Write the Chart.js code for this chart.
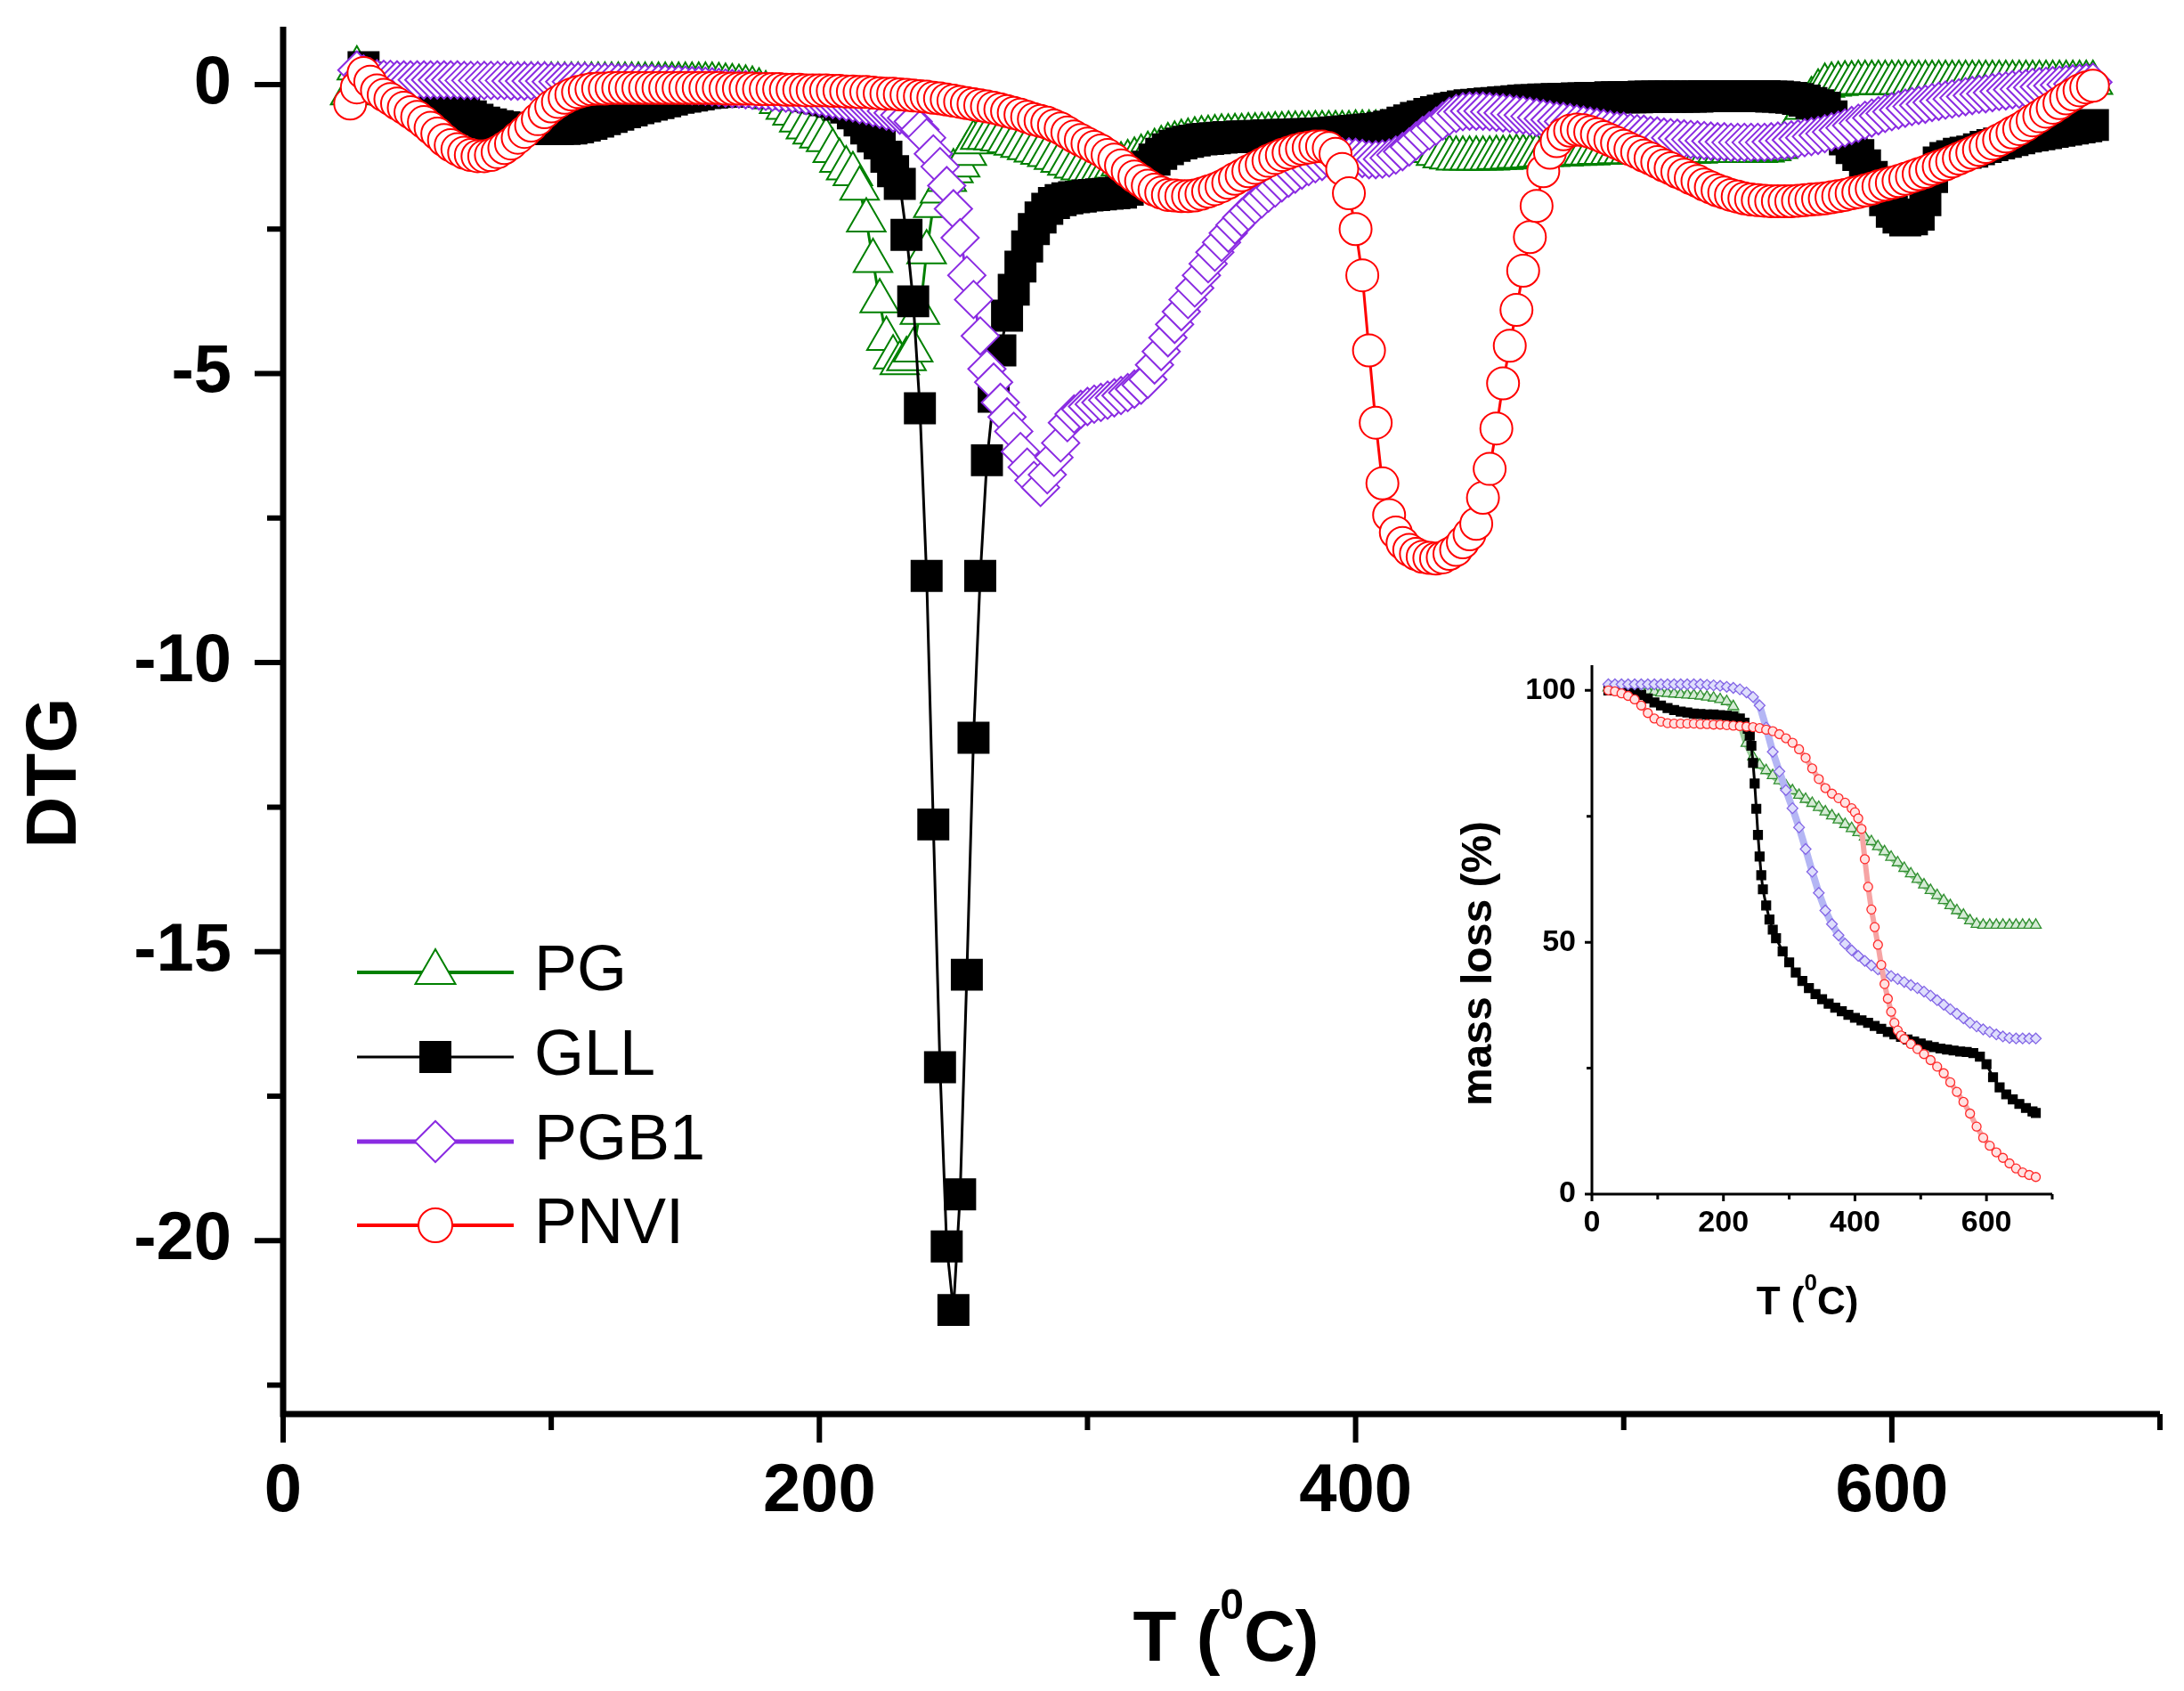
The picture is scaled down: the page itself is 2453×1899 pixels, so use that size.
<!DOCTYPE html>
<html>
<head>
<meta charset="utf-8">
<script src="https://cdn.jsdelivr.net/npm/chart.js@4.4.0/dist/chart.umd.min.js"></script>
<style>
  html, body { margin: 0; padding: 0; background: #fff; overflow: hidden; }
  #wrap { position: relative; width: 2453px; height: 1899px; }
  #main { position: absolute; left: 0; top: 0; }
  #inset { position: absolute; left: 1600px; top: 720px; }
</style>
</head>
<body>
<div id="wrap">
  <canvas id="main" width="2453" height="1899"></canvas>
  <canvas id="inset" width="720" height="790"></canvas>
</div>
<script>
// ---- DTG data (main plot), one value per temperature step ----
const temps = [
  25,27.5,30,32.5,35,37.5,40,42.5,45,47.5,
  50,52.5,55,57.5,60,62.5,65,67.5,70,72.5,
  75,77.5,80,82.5,85,87.5,90,92.5,95,97.5,
  100,102.5,105,107.5,110,112.5,115,117.5,120,122.5,
  125,127.5,130,132.5,135,137.5,140,142.5,145,147.5,
  150,152.5,155,157.5,160,162.5,165,167.5,170,172.5,
  175,177.5,180,182.5,185,187.5,190,192.5,195,197.5,
  200,202.5,205,207.5,210,212.5,215,217.5,220,222.5,
  225,227.5,230,232.5,235,237.5,240,242.5,245,247.5,
  250,252.5,255,257.5,260,262.5,265,267.5,270,272.5,
  275,277.5,280,282.5,285,287.5,290,292.5,295,297.5,
  300,302.5,305,307.5,310,312.5,315,317.5,320,322.5,
  325,327.5,330,332.5,335,337.5,340,342.5,345,347.5,
  350,352.5,355,357.5,360,362.5,365,367.5,370,372.5,
  375,377.5,380,382.5,385,387.5,390,392.5,395,397.5,
  400,402.5,405,407.5,410,412.5,415,417.5,420,422.5,
  425,427.5,430,432.5,435,437.5,440,442.5,445,447.5,
  450,452.5,455,457.5,460,462.5,465,467.5,470,472.5,
  475,477.5,480,482.5,485,487.5,490,492.5,495,497.5,
  500,502.5,505,507.5,510,512.5,515,517.5,520,522.5,
  525,527.5,530,532.5,535,537.5,540,542.5,545,547.5,
  550,552.5,555,557.5,560,562.5,565,567.5,570,572.5,
  575,577.5,580,582.5,585,587.5,590,592.5,595,597.5,
  600,602.5,605,607.5,610,612.5,615,617.5,620,622.5,
  625,627.5,630,632.5,635,637.5,640,642.5,645,647.5,
  650,652.5,655,657.5,660,662.5,665,667.5,670,672.5,
  675
];

const pgDTG = [
  -0.15,0.28,0.1,0.02,0,0,0,0,0,0,
  0,0,0,0,0,0,0,0,0,0,
  0,0,0,0,0,0,0,0,0,0,
  0,0,0,0,0,0,0,0,0,0,
  0,0,0,0,0,0,0,0,0,0,
  0,0,0,0,0,-0.01,-0.02,-0.03,-0.04,-0.05,
  -0.07,-0.1,-0.15,-0.22,-0.3,-0.4,-0.5,-0.62,-0.74,-0.83,
  -0.9,-0.96,-1.15,-1.32,-1.45,-1.55,-1.8,-2.35,-3.05,-3.75,
  -4.4,-4.72,-4.82,-4.75,-4.6,-3.95,-2.9,-2.1,-1.85,-1.65,
  -1.5,-1.4,-1.2,-1.0,-0.92,-0.92,-0.93,-0.95,-0.98,-1.02,
  -1.06,-1.1,-1.14,-1.18,-1.22,-1.27,-1.32,-1.37,-1.42,-1.45,
  -1.47,-1.47,-1.46,-1.44,-1.42,-1.38,-1.34,-1.3,-1.25,-1.2,
  -1.15,-1.1,-1.05,-1.02,-0.99,-0.97,-0.95,-0.93,-0.92,-0.91,
  -0.9,-0.9,-0.89,-0.89,-0.88,-0.88,-0.87,-0.87,-0.86,-0.86,
  -0.85,-0.85,-0.85,-0.85,-0.84,-0.84,-0.84,-0.84,-0.84,-0.84,
  -0.83,-0.83,-0.83,-0.83,-0.83,-0.83,-0.84,-0.86,-0.9,-0.96,
  -1.08,-1.15,-1.2,-1.24,-1.26,-1.28,-1.28,-1.28,-1.28,-1.28,
  -1.28,-1.27,-1.27,-1.26,-1.25,-1.25,-1.24,-1.23,-1.22,-1.22,
  -1.21,-1.21,-1.2,-1.2,-1.19,-1.19,-1.18,-1.18,-1.18,-1.17,
  -1.17,-1.17,-1.17,-1.17,-1.16,-1.16,-1.16,-1.16,-1.16,-1.16,
  -1.16,-1.16,-1.15,-1.15,-1.15,-1.15,-1.15,-1.15,-1.15,-1.15,
  -1.15,-1.14,-1.12,-1.08,-1.0,-0.8,-0.6,-0.4,-0.25,-0.12,
  -0.02,0,0.01,0.02,0.02,0.03,0.03,0.03,0.03,0.03,
  0.03,0.03,0.03,0.03,0.03,0.03,0.03,0.03,0.03,0.03,
  0.03,0.03,0.03,0.03,0.03,0.03,0.03,0.03,0.03,0.03,
  0.03,0.03,0.03,0.03,0.03,0.03,0.03,0.03,0.03,0.03,
  0.03
];

const gllDTG = [
  null,null,0.3,0.12,0,-0.05,-0.08,-0.1,-0.11,-0.12,
  -0.15,-0.17,-0.2,-0.25,-0.3,-0.36,-0.42,-0.48,-0.55,-0.61,
  -0.66,-0.69,-0.72,-0.74,-0.75,-0.76,-0.76,-0.77,-0.77,-0.77,
  -0.77,-0.77,-0.77,-0.76,-0.74,-0.71,-0.68,-0.64,-0.6,-0.56,
  -0.52,-0.48,-0.45,-0.41,-0.38,-0.35,-0.32,-0.29,-0.26,-0.23,
  -0.21,-0.19,-0.17,-0.15,-0.14,-0.13,-0.12,-0.12,-0.12,-0.12,
  -0.12,-0.12,-0.13,-0.14,-0.15,-0.16,-0.17,-0.18,-0.2,-0.22,
  -0.24,-0.27,-0.3,-0.35,-0.4,-0.5,-0.62,-0.76,-0.9,-1.02,
  -1.25,-1.5,-1.72,-2.6,-3.75,-5.6,-8.5,-12.8,-17.0,-20.1,
  -21.2,-19.2,-15.4,-11.3,-8.5,-6.5,-5.4,-4.6,-4.0,-3.55,
  -3.15,-2.8,-2.5,-2.3,-2.15,-2.05,-2.0,-1.97,-1.95,-1.94,
  -1.92,-1.91,-1.9,-1.89,-1.88,-1.87,-1.82,-1.75,-1.55,-1.42,
  -1.3,-1.2,-1.12,-1.06,-1.02,-0.99,-0.97,-0.95,-0.94,-0.93,
  -0.92,-0.91,-0.91,-0.9,-0.9,-0.89,-0.89,-0.88,-0.88,-0.87,
  -0.87,-0.87,-0.86,-0.86,-0.85,-0.85,-0.84,-0.83,-0.82,-0.81,
  -0.8,-0.79,-0.78,-0.77,-0.75,-0.73,-0.7,-0.66,-0.62,-0.58,
  -0.55,-0.51,-0.48,-0.45,-0.42,-0.4,-0.38,-0.36,-0.35,-0.34,
  -0.33,-0.32,-0.31,-0.3,-0.29,-0.28,-0.27,-0.27,-0.26,-0.26,
  -0.25,-0.25,-0.25,-0.24,-0.24,-0.23,-0.23,-0.23,-0.22,-0.22,
  -0.22,-0.22,-0.22,-0.21,-0.21,-0.21,-0.21,-0.21,-0.21,-0.21,
  -0.21,-0.21,-0.2,-0.2,-0.2,-0.2,-0.2,-0.2,-0.2,-0.2,
  -0.2,-0.2,-0.21,-0.21,-0.22,-0.23,-0.25,-0.28,-0.32,-0.36,
  -0.4,-0.55,-0.75,-0.95,-1.1,-1.22,-1.4,-1.6,-1.8,-2.0,
  -2.2,-2.3,-2.35,-2.33,-2.25,-2.0,-1.6,-1.35,-1.27,-1.24,
  -1.2,-1.18,-1.16,-1.12,-1.08,-1.05,-1.02,-0.99,-0.96,-0.93,
  -0.9,-0.88,-0.86,-0.84,-0.82,-0.8,-0.78,-0.76,-0.74,-0.72,
  -0.7
];

const pgb1DTG = [
  null,0.25,0.18,0.13,0.1,0.09,0.09,0.08,0.08,0.08,
  0.08,0.08,0.08,0.08,0.08,0.08,0.08,0.07,0.07,0.07,
  0.07,0.07,0.07,0.07,0.06,0.06,0.06,0.06,0.06,0.06,
  0.05,0.05,0.05,0.05,0.05,0.05,0.04,0.04,0.04,0.04,
  0.03,0.03,0.03,0.02,0.02,0.02,0.01,0.01,0,0,
  -0.01,-0.02,-0.02,-0.03,-0.04,-0.05,-0.06,-0.07,-0.08,-0.09,
  -0.1,-0.11,-0.12,-0.13,-0.14,-0.15,-0.16,-0.17,-0.19,-0.2,
  -0.22,-0.24,-0.26,-0.28,-0.3,-0.32,-0.35,-0.37,-0.4,-0.43,
  -0.46,-0.49,-0.53,-0.58,-0.64,-0.78,-0.92,-1.2,-1.42,-1.75,
  -2.15,-2.65,-3.3,-3.72,-4.35,-4.92,-5.15,-5.5,-5.75,-6.0,
  -6.35,-6.62,-6.85,-6.97,-6.75,-6.45,-6.2,-5.85,-5.7,-5.62,
  -5.57,-5.53,-5.5,-5.46,-5.42,-5.38,-5.33,-5.27,-5.2,-5.1,
  -4.85,-4.62,-4.38,-4.15,-3.93,-3.72,-3.52,-3.3,-3.1,-2.9,
  -2.73,-2.57,-2.43,-2.3,-2.19,-2.08,-1.98,-1.88,-1.79,-1.7,
  -1.62,-1.55,-1.48,-1.42,-1.37,-1.33,-1.29,-1.26,-1.25,-1.25,
  -1.26,-1.28,-1.3,-1.3,-1.29,-1.27,-1.22,-1.16,-1.08,-0.98,
  -0.88,-0.8,-0.72,-0.63,-0.55,-0.5,-0.47,-0.46,-0.46,-0.46,
  -0.47,-0.48,-0.49,-0.5,-0.52,-0.53,-0.55,-0.57,-0.59,-0.61,
  -0.63,-0.64,-0.66,-0.68,-0.7,-0.72,-0.74,-0.76,-0.78,-0.8,
  -0.81,-0.83,-0.85,-0.86,-0.88,-0.89,-0.91,-0.92,-0.93,-0.94,
  -0.95,-0.96,-0.97,-0.98,-0.99,-0.99,-1.0,-1.0,-1.0,-1.0,
  -1.0,-1.0,-0.99,-0.98,-0.97,-0.96,-0.94,-0.92,-0.9,-0.88,
  -0.85,-0.82,-0.79,-0.75,-0.71,-0.67,-0.62,-0.58,-0.54,-0.5,
  -0.47,-0.44,-0.41,-0.38,-0.36,-0.34,-0.31,-0.29,-0.27,-0.25,
  -0.23,-0.21,-0.19,-0.17,-0.16,-0.14,-0.12,-0.11,-0.09,-0.08,
  -0.07,-0.05,-0.04,-0.03,-0.02,-0.01,0,0.01,0.02,0.03,
  0.04
];

const pnviDTG = [
  -0.33,-0.05,0.2,0.05,-0.1,-0.18,-0.25,-0.33,-0.4,-0.48,
  -0.56,-0.65,-0.75,-0.85,-0.96,-1.05,-1.12,-1.18,-1.22,-1.24,
  -1.24,-1.22,-1.17,-1.1,-1.02,-0.92,-0.82,-0.71,-0.6,-0.48,
  -0.38,-0.3,-0.23,-0.17,-0.13,-0.1,-0.08,-0.07,-0.07,-0.06,
  -0.06,-0.06,-0.06,-0.06,-0.06,-0.06,-0.06,-0.06,-0.06,-0.06,
  -0.06,-0.06,-0.06,-0.06,-0.06,-0.06,-0.07,-0.07,-0.07,-0.07,
  -0.07,-0.08,-0.08,-0.08,-0.08,-0.09,-0.09,-0.09,-0.1,-0.1,
  -0.1,-0.1,-0.11,-0.11,-0.12,-0.12,-0.13,-0.13,-0.14,-0.15,
  -0.16,-0.16,-0.17,-0.18,-0.19,-0.2,-0.21,-0.23,-0.24,-0.26,
  -0.28,-0.3,-0.32,-0.34,-0.36,-0.38,-0.4,-0.43,-0.46,-0.49,
  -0.52,-0.56,-0.6,-0.63,-0.66,-0.71,-0.76,-0.83,-0.9,-0.96,
  -1.02,-1.08,-1.14,-1.22,-1.3,-1.4,-1.5,-1.59,-1.67,-1.75,
  -1.82,-1.87,-1.91,-1.92,-1.93,-1.93,-1.92,-1.89,-1.85,-1.81,
  -1.76,-1.7,-1.63,-1.57,-1.5,-1.44,-1.38,-1.32,-1.27,-1.22,
  -1.18,-1.14,-1.11,-1.09,-1.07,-1.07,-1.1,-1.2,-1.46,-1.88,
  -2.5,-3.3,-4.6,-5.85,-6.9,-7.45,-7.75,-7.93,-8.05,-8.12,
  -8.17,-8.19,-8.2,-8.18,-8.12,-8.05,-7.92,-7.78,-7.6,-7.15,
  -6.65,-5.95,-5.17,-4.52,-3.9,-3.22,-2.64,-2.1,-1.5,-1.18,
  -0.98,-0.86,-0.8,-0.78,-0.79,-0.82,-0.86,-0.91,-0.96,-1.01,
  -1.06,-1.12,-1.17,-1.23,-1.28,-1.34,-1.4,-1.45,-1.51,-1.56,
  -1.62,-1.67,-1.73,-1.78,-1.83,-1.87,-1.91,-1.94,-1.97,-1.99,
  -2.0,-2.01,-2.02,-2.02,-2.02,-2.02,-2.01,-2.0,-1.99,-1.98,
  -1.97,-1.95,-1.93,-1.91,-1.88,-1.86,-1.83,-1.8,-1.76,-1.73,
  -1.7,-1.67,-1.63,-1.59,-1.55,-1.51,-1.46,-1.42,-1.38,-1.33,
  -1.28,-1.23,-1.18,-1.13,-1.08,-1.02,-0.96,-0.9,-0.83,-0.77,
  -0.7,-0.62,-0.55,-0.47,-0.4,-0.32,-0.24,-0.17,-0.1,-0.05,
  -0.02
];

// ---- TG data (inset), mass loss in % ----
const tgTemps = [
  25,35,45,55,65,75,85,95,105,115,125,135,145,155,165,175,185,195,205,215,
  225,235,245,255,265,275,285,295,305,315,325,335,345,355,365,375,385,395,405,415,
  425,435,445,455,465,475,485,495,505,515,525,535,545,555,565,575,585,595,605,615,
  625,635,645,655,665,675
];
const pgTG = [
  100.5,100.4,100.3,100.2,100.1,100,99.9,99.7,99.5,99.4,99.3,99.2,99.1,99,98.9,98.7,98.5,98.2,97.8,96.8,
  93.8,89.5,86.8,85.2,84.1,83.1,82.1,81.1,80.1,79.2,78.4,77.6,76.8,75.9,75.1,74.3,73.4,72.6,71.8,70.9,
  70,69,68,66.9,65.8,64.7,63.6,62.5,61.4,60.3,59.3,58.3,57.3,56.3,55.4,54.3,53.6,53.4,53.4,53.4,
  53.4,53.4,53.4,53.4,53.4,53.4
];
const pgb1TG = [
  101.2,101.2,101.2,101.2,101.2,101.2,101.2,101.2,101.2,101.2,101.2,101.2,101.2,101.2,101.2,101.1,101,100.9,100.7,100.5,
  100.2,99.6,98.7,97,92.6,87.8,83.9,80.2,76.6,72.8,68.5,64,59.8,56.3,53.6,51.4,49.7,48.4,47.3,46.3,
  45.4,44.6,43.9,43.3,42.7,42.1,41.5,40.9,40.2,39.4,38.5,37.6,36.7,35.8,34.9,34,33.3,32.7,32.2,31.7,
  31.3,31,30.9,30.9,30.9,30.9
];
const gllTgT = [
  25,35,45,55,65,75,85,95,105,115,125,135,145,155,165,175,185,195,205,215,225,
  232,237,240,242.5,245,247.5,250,252.5,255,257.5,260,265,270,275,280,
  290,300,310,320,330,340,350,360,370,380,390,400,410,420,430,440,450,460,470,480,
  490,500,510,520,530,540,550,560,570,580,590,600,610,620,630,640,650,660,670,675
];
const gllTG = [
  100,100,100,99.9,99.6,99.1,98.4,97.6,97,96.5,96.1,95.8,95.6,95.4,95.3,95.2,95.2,95.1,95,94.8,94.4,
  93.6,92.4,91,89,85.6,81.5,76.5,71.3,67,63.3,60.5,57.3,54.5,52.5,50.8,
  48.2,46,44,42.3,40.9,39.7,38.7,37.8,37,36.3,35.6,35,34.5,34,33.4,32.8,32.2,31.7,31.2,30.7,
  30.3,29.9,29.5,29.2,28.9,28.7,28.5,28.3,28.2,28,27.3,25.8,23.2,21.2,19.8,18.8,17.9,17.1,16.4,16.1
];
const pnviTgT = [
  25,35,45,55,65,75,85,95,105,115,125,135,145,155,165,175,185,195,205,215,
  225,235,245,255,265,275,285,295,305,315,325,335,345,355,365,375,385,395,
  400,405,410,415,420,425,430,435,440,445,450,455,460,465,470,475,
  485,495,505,515,525,535,545,555,565,575,585,595,605,615,625,635,645,655,665,675
];
const pnviTG = [
  100,99.8,99.4,98.9,98.2,97,95.5,94.4,93.8,93.5,93.4,93.4,93.4,93.4,93.3,93.3,93.2,93.2,93.1,93,
  92.9,92.8,92.7,92.5,92.2,91.9,91.3,90.5,89.6,88.3,86.6,84.5,82.4,80.6,79.5,78.6,77.7,76.6,
  75.8,74.6,72.5,66.5,61,56.5,53,49.5,45.5,41.7,38.8,36.2,34,32.5,31.5,30.8,
  29.8,28.8,27.8,26.6,25.3,24,22.2,20.3,18.3,16,13.4,11.2,9.6,8.3,7.2,6.1,5.1,4.3,3.8,3.4
];

const FONT = '"Liberation Sans", Arial, Helvetica, sans-serif';

// series look, main plot and inset
const series = [
  { name: 'PG',   color: '#008000', style: 'triangle', r: 25, fill: '#fff', legR: 26, legLine: 4,
    tgColor: '#2f8f2f', tgLine: '#9ccc9c', tgLineW: 8, tgR: 7, tgFill: '#d6ebd6' },
  { name: 'GLL',  color: '#000000', style: 'rect',     r: 24, fill: '#000', legR: 24, legLine: 3,
    tgColor: '#000000', tgLine: '#000000', tgLineW: 3, tgR: 7, tgFill: '#000' },
  { name: 'PGB1', color: '#8a2be2', style: 'rectRot',  r: 21, fill: '#fff', legR: 23, legLine: 5,
    tgColor: '#8466e6', tgLine: '#b4b6f4', tgLineW: 8, tgR: 6, tgFill: '#dedefc' },
  { name: 'PNVI', color: '#ff0000', style: 'circle',   r: 18, fill: '#fff', legR: 19, legLine: 4,
    tgColor: '#ff2a2a', tgLine: '#f6a4a4', tgLineW: 6, tgR: 5, tgFill: '#ffe2e2' }
];
const dtgValues = [pgDTG, gllDTG, pgb1DTG, pnviDTG];
const tgTemperature = [tgTemps, gllTgT, tgTemps, pnviTgT];
const tgValues = [pgTG, gllTG, pgb1TG, pnviTG];
const legendRows = [1092, 1187, 1282, 1376];

function toPoints(ts, vs) {
  return ts.map((t, i) => ({ x: t, y: vs[i] }));
}

function marker(ctx, style, x, y, r) {
  ctx.beginPath();
  if (style === 'circle') {
    ctx.arc(x, y, r, 0, Math.PI * 2);
  } else if (style === 'rect') {
    const s = r * Math.SQRT1_2;
    ctx.rect(x - s, y - s, 2 * s, 2 * s);
  } else if (style === 'rectRot') {
    ctx.moveTo(x - r, y); ctx.lineTo(x, y - r); ctx.lineTo(x + r, y); ctx.lineTo(x, y + r);
    ctx.closePath();
  } else {
    ctx.moveTo(x, y - r);
    ctx.lineTo(x + r * Math.sin(2 * Math.PI / 3), y - r * Math.cos(2 * Math.PI / 3));
    ctx.lineTo(x + r * Math.sin(4 * Math.PI / 3), y - r * Math.cos(4 * Math.PI / 3));
    ctx.closePath();
  }
  ctx.fill();
  ctx.stroke();
}

// axis lines with long major / short minor ticks
function axesPlugin(o) {
  return {
    id: 'axesDraw',
    afterDraw(chart) {
      const ctx = chart.ctx, a = chart.chartArea;
      const xs = chart.scales.x, ys = chart.scales.y;
      ctx.save();
      ctx.strokeStyle = '#000';
      ctx.lineWidth = o.lw;
      ctx.beginPath();
      ctx.moveTo(a.left, a.top);
      ctx.lineTo(a.left, a.bottom + o.lw / 2);
      ctx.moveTo(a.left - o.lw / 2, a.bottom);
      ctx.lineTo(a.right, a.bottom);
      ctx.stroke();
      ctx.lineWidth = o.tw;
      ctx.beginPath();
      ys.ticks.forEach(t => {
        const major = Math.abs(t.value % o.yMajor) < 1e-6;
        const py = ys.getPixelForValue(t.value);
        ctx.moveTo(a.left, py);
        ctx.lineTo(a.left - (major ? o.major : o.minor), py);
      });
      xs.ticks.forEach(t => {
        const major = Math.abs(t.value % o.xMajor) < 1e-6;
        const px = xs.getPixelForValue(t.value);
        ctx.moveTo(px, a.bottom);
        ctx.lineTo(px, a.bottom + (major ? o.major : o.minor));
      });
      ctx.stroke();
      ctx.restore();
    }
  };
}

function rotText(ctx, text, x, y, font) {
  ctx.save();
  ctx.translate(x, y);
  ctx.rotate(-Math.PI / 2);
  ctx.font = font;
  ctx.fillStyle = '#000';
  ctx.textAlign = 'center';
  ctx.textBaseline = 'middle';
  ctx.fillText(text, 0, 0);
  ctx.restore();
}

// "T (0C)" with the 0 raised
function tempTitle(ctx, cx, by, size, sup, raise) {
  const f1 = 'bold ' + size + 'px ' + FONT, f2 = 'bold ' + sup + 'px ' + FONT;
  ctx.save();
  ctx.fillStyle = '#000';
  ctx.textAlign = 'left';
  ctx.textBaseline = 'alphabetic';
  ctx.font = f1;
  const w1 = ctx.measureText('T (').width, w3 = ctx.measureText('C)').width;
  ctx.font = f2;
  const w2 = ctx.measureText('0').width;
  let x = cx - (w1 + w2 + w3) / 2;
  ctx.font = f1; ctx.fillText('T (', x, by); x += w1;
  ctx.font = f2; ctx.fillText('0', x, by - raise); x += w2;
  ctx.font = f1; ctx.fillText('C)', x, by);
  ctx.restore();
}

const mainDecor = {
  id: 'mainDecor',
  afterDraw(chart) {
    const ctx = chart.ctx;
    rotText(ctx, 'DTG', 63, 868, 'bold 80px ' + FONT);
    tempTitle(ctx, 1377, 1865, 80, 48, 47);
    series.forEach((s, i) => {
      const y = legendRows[i];
      ctx.save();
      ctx.strokeStyle = s.color;
      ctx.lineWidth = s.legLine;
      ctx.beginPath(); ctx.moveTo(401, y); ctx.lineTo(577, y); ctx.stroke();
      ctx.lineWidth = 2;
      ctx.fillStyle = s.fill;
      marker(ctx, s.style, 489, y, s.legR);
      ctx.fillStyle = '#000';
      ctx.font = '72px ' + FONT;
      ctx.textAlign = 'left';
      ctx.textBaseline = 'middle';
      ctx.fillText(s.name, 600, y);
      ctx.restore();
    });
  }
};

const insetDecor = {
  id: 'insetDecor',
  afterDraw(chart) {
    const ctx = chart.ctx;
    rotText(ctx, 'mass loss (%)', 62, 362, 'bold 48px ' + FONT);
    tempTitle(ctx, 430, 756, 44, 26, 27);
  }
};

const order = [4, 3, 2, 1]; // PNVI on top, PG at the back

// fixed scale boxes so the plot area sits where the reference has it
function fixX(h) {
  return s => { s.height = h; s.paddingLeft = 0; s.paddingRight = 0; };
}
function fixY(w) {
  return s => { s.width = w; s.paddingTop = 0; s.paddingBottom = 0; };
}

new Chart(document.getElementById('main'), {
  type: 'line',
  data: {
    datasets: series.map((s, i) => ({
      label: s.name,
      data: toPoints(temps, dtgValues[i]),
      borderColor: s.color,
      borderWidth: 3,
      pointStyle: s.style,
      pointRadius: s.r,
      pointBorderWidth: 2,
      pointBorderColor: s.color,
      pointBackgroundColor: s.fill,
      tension: 0,
      clip: false,
      order: order[i]
    }))
  },
  options: {
    responsive: false,
    animation: false,
    devicePixelRatio: 1,
    layout: { padding: { top: 30, right: 27, left: 0, bottom: 0 } },
    plugins: { legend: { display: false }, tooltip: { enabled: false } },
    scales: {
      x: {
        type: 'linear', min: 0, max: 700,
        grid: { display: false, drawTicks: false }, border: { display: false },
        ticks: {
          stepSize: 100, autoSkip: false, maxRotation: 0, includeBounds: false,
          padding: 42, color: '#000',
          font: { family: FONT, size: 76, weight: 'bold' },
          callback: v => (v % 200 === 0 ? String(v) : '')
        },
        afterFit: fixX(311)
      },
      y: {
        type: 'linear', min: -23, max: 1,
        grid: { display: false, drawTicks: false }, border: { display: false },
        ticks: {
          stepSize: 2.5, autoSkip: false, includeBounds: false,
          padding: 58, color: '#000',
          font: { family: FONT, size: 76, weight: 'bold' },
          callback: v => (v % 5 === 0 ? String(v) : '')
        },
        afterFit: fixY(318)
      }
    }
  },
  plugins: [axesPlugin({ lw: 7, tw: 6, major: 32, minor: 18, xMajor: 200, yMajor: 5 }), mainDecor]
});

new Chart(document.getElementById('inset'), {
  type: 'line',
  data: {
    datasets: series.map((s, i) => ({
      label: s.name,
      data: toPoints(tgTemperature[i], tgValues[i]),
      borderColor: s.tgLine,
      borderWidth: s.tgLineW,
      pointStyle: s.style,
      pointRadius: s.tgR,
      pointBorderWidth: 1.3,
      pointBorderColor: s.tgColor,
      pointBackgroundColor: s.tgFill,
      tension: 0,
      clip: false,
      order: order[i]
    }))
  },
  options: {
    responsive: false,
    animation: false,
    devicePixelRatio: 1,
    layout: { padding: { top: 27, right: 15, left: 0, bottom: 0 } },
    plugins: { legend: { display: false }, tooltip: { enabled: false } },
    scales: {
      x: {
        type: 'linear', min: 0, max: 700,
        grid: { display: false, drawTicks: false }, border: { display: false },
        ticks: {
          stepSize: 100, autoSkip: false, maxRotation: 0, includeBounds: false,
          padding: 12, color: '#000',
          font: { family: FONT, size: 34, weight: 'bold' },
          callback: v => (v % 200 === 0 ? String(v) : '')
        },
        afterFit: fixX(169)
      },
      y: {
        type: 'linear', min: 0, max: 105,
        grid: { display: false, drawTicks: false }, border: { display: false },
        ticks: {
          stepSize: 25, autoSkip: false, includeBounds: false,
          padding: 18, color: '#000',
          font: { family: FONT, size: 34, weight: 'bold' },
          callback: v => (v % 50 === 0 ? String(v) : '')
        },
        afterFit: fixY(188)
      }
    }
  },
  plugins: [axesPlugin({ lw: 3, tw: 3, major: 8, minor: 6, xMajor: 200, yMajor: 50 }), insetDecor]
});
</script>
</body>
</html>
